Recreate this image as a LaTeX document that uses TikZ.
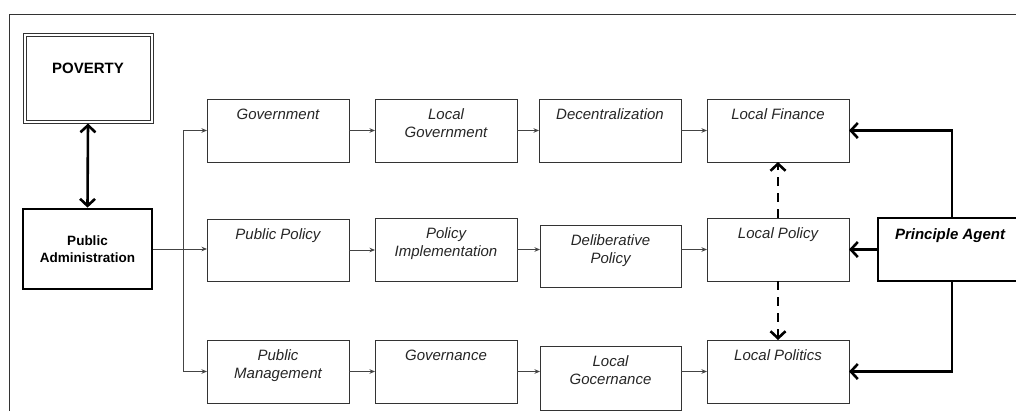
\documentclass[tikz,border=0pt]{standalone}
\usepackage{fontspec}
\setmainfont{Liberation Sans}
\usetikzlibrary{arrows.meta}
\definecolor{bordergray}{HTML}{333333}
\definecolor{arrowgray}{HTML}{444444}
\tikzset{
  box/.style={draw=bordergray, line width=1pt, minimum width=142pt, minimum height=63pt, inner sep=0pt, outer sep=0pt},
  lbl/.style={font=\fontsize{15}{18}\selectfont\itshape, align=center, text=black!85, anchor=north, yshift=-9.5pt, inner sep=0pt},
  thinarr/.style={draw=arrowgray, line width=0.9pt, -{Stealth[length=5.5pt,width=4.5pt]}},
  thickarr/.style={draw=black, line width=2.6pt, -{Straight Barb[length=7pt,width=15pt]}},
  dasharr/.style={draw=black, line width=2.6pt, dash pattern=on 9pt off 7pt, -{Straight Barb[length=7pt,width=15pt]}}
}
\begin{document}
\begin{tikzpicture}[x=1pt,y=-1pt]
\useasboundingbox (0,0) rectangle (1016,410);
\clip (0,0) rectangle (1016,410);
\fill[white] (0,0) rectangle (1016,410);
% outer frame
\draw[draw=bordergray, line width=1pt] (9,14) rectangle (1040,440);

% left column
\node[draw=bordergray, line width=1pt, minimum width=130pt, minimum height=90pt, inner sep=0pt] (pov) at (88,78) {};
\draw[bordergray, line width=1pt] ([shift={(3.5,3.5)}]pov.north west) rectangle ([shift={(-3.5,-3.5)}]pov.south east);
\node[font=\fontsize{15}{18}\selectfont\bfseries, anchor=north, inner sep=0pt] (povt) at (88,63) {POVERTY};
\node[draw=black, line width=2.8pt, minimum width=129pt, minimum height=80pt, inner sep=0pt, align=center, font=\fontsize{13.5}{17}\selectfont\bfseries] (pa) at (87.5,249) {Public\\Administration};

% row 1
\node[box, label={[lbl]north:Government}] (gov) at (278,130.5) {};
\node[box, label={[lbl]north:Local\\Government}] (lgov) at (446,130.5) {};
\node[box, label={[lbl]north:Decentralization}] (dec) at (610,130.5) {};
\node[box, label={[lbl]north:Local Finance}] (lfin) at (778,130.5) {};
% row 2
\node[box, minimum height=62pt, label={[lbl]north:Public Policy}] (pp) at (278,250) {};
\node[box, label={[lbl]north:Policy\\Implementation}] (pimp) at (446,249.5) {};
\node[box, minimum width=141pt, minimum height=62pt, label={[lbl]north:Deliberative\\Policy}] (delib) at (610.5,256) {};
\node[box, label={[lbl]north:Local Policy}] (lpol) at (778,249.5) {};
% row 3
\node[box, label={[lbl]north:Public\\Management}] (pm) at (278,371.5) {};
\node[box, label={[lbl]north:Governance}] (govn) at (446,371.5) {};
\node[box, minimum width=141pt, minimum height=64pt, label={[lbl]north:Local\\Gocernance}] (lgoc) at (610.5,378) {};
\node[box, label={[lbl]north:Local Politics}] (lpolit) at (778,371.5) {};

% principle agent
\node[draw=black, line width=2.8pt, minimum width=152pt, minimum height=63pt, inner sep=0pt] (agent) at (954,249.5) {};
\node[font=\fontsize{15}{18}\selectfont\bfseries\itshape, anchor=north, inner sep=0pt] (agentt) at (950,228) {Principle Agent};

% connectors
\draw[line width=2.6pt, {Straight Barb[length=7pt,width=15pt]}-{Straight Barb[length=7pt,width=15pt]}] (pov.south) -- (pa.north);
\coordinate (br) at (183,249);
\draw[thinarr] (pa.east) -- (pa.east -| pp.west);
\draw[thinarr] (br) |- (gov.west);
\draw[thinarr] (br) |- (pm.west);

\draw[thinarr] (gov.east) -- (lgov.west);
\draw[thinarr] (lgov.east) -- (dec.west);
\draw[thinarr] (dec.east) -- (lfin.west);

\draw[thinarr] (pp.east) -- (pp.east -| pimp.west);
\draw[thinarr] (pimp.east) -- (pimp.east -| delib.west);
\draw[thinarr] (delib.east |- lpol.west) -- (lpol.west);

\draw[thinarr] (pm.east) -- (govn.west);
\draw[thinarr] (govn.east) -- (govn.east -| lgoc.west);
\draw[thinarr] (lgoc.east |- lpolit.west) -- (lpolit.west);

\draw[dasharr] (lpol.north) -- (lfin.south);
\draw[dasharr] (lpol.south) -- (lpolit.north);

\draw[thickarr] ([xshift=-2pt]agent.north) |- (lfin.east);
\draw[thickarr] (agent.west) -- (lpol.east);
\draw[thickarr] ([xshift=-2pt]agent.south) |- (lpolit.east);
\end{tikzpicture}
\end{document}
